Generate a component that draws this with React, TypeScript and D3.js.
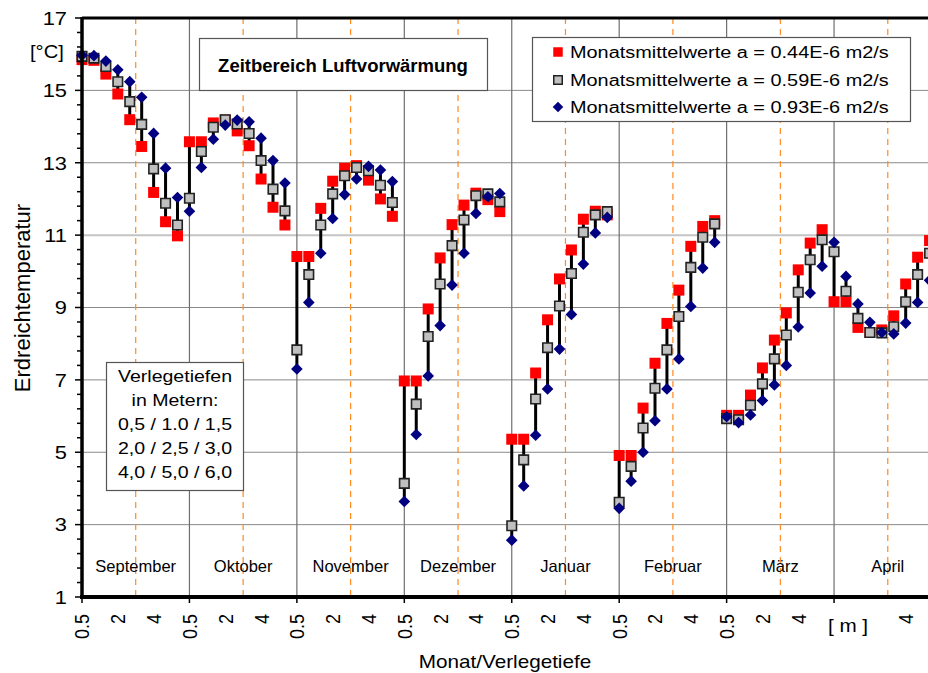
import React, { useEffect, useRef } from "react";
import * as d3 from "d3";

// months on the x axis, 9 laying depths each
const months = ["September", "Oktober", "November", "Dezember", "Januar", "Februar", "März", "April"];
const depths = ["0.5", "1.0", "1.5", "2.0", "2.5", "3.0", "4.0", "5.0", "6.0"];
const depthTicks = ["0.5", "", "", "2", "", "", "4", "", ""];
const yTickValues = [1, 3, 5, 7, 9, 11, 13, 15, 17];
const legendLabels = [
    "Monatsmittelwerte a = 0.44E-6 m2/s",
    "Monatsmittelwerte a = 0.59E-6 m2/s",
    "Monatsmittelwerte a = 0.93E-6 m2/s",
];
const depthNote = ["Verlegetiefen", "in Metern:", "0,5 / 1.0 / 1,5", "2,0 / 2,5 / 3,0", "4,0 / 5,0 / 6,0"];

// a = 0.44E-6 m2/s
const series044 = [
    15.85, 15.83, 15.45, 14.9, 14.19, 13.45, 12.18, 11.37, 10.98,
    13.58, 13.58, 14.1, 14.18, 13.88, 13.47, 12.55, 11.77, 11.28,
    10.41, 10.41, 11.74, 12.49, 12.85, 12.92, 12.52, 12.0, 11.52,
    6.97, 6.97, 8.96, 10.37, 11.29, 11.83, 12.16, 11.98, 11.65,
    5.36, 5.36, 7.19, 8.66, 9.79, 10.59, 11.44, 11.66, 11.56,
    4.91, 4.91, 6.22, 7.46, 8.56, 9.48, 10.69, 11.24, 11.4,
    6.02, 6.02, 6.58, 7.33, 8.1, 8.85, 10.04, 10.78, 11.15,
    9.16, 9.16, 8.45, 8.31, 8.38, 8.77, 9.65, 10.39, 10.85,
];
// a = 0.59E-6 m2/s
const series059 = [
    15.94, 15.89, 15.66, 15.24, 14.69, 14.06, 12.83, 11.88, 11.28,
    12.02, 13.31, 13.98, 14.19, 14.07, 13.81, 13.06, 12.27, 11.67,
    7.83, 9.91, 11.28, 12.14, 12.64, 12.87, 12.78, 12.38, 11.9,
    4.14, 6.33, 8.2, 9.65, 10.71, 11.42, 12.09, 12.14, 11.92,
    2.97, 4.79, 6.47, 7.89, 9.04, 9.94, 11.08, 11.56, 11.65,
    3.62, 4.61, 5.67, 6.77, 7.83, 8.75, 10.11, 10.94, 11.31,
    5.93, 5.9, 6.3, 6.89, 7.58, 8.24, 9.42, 10.32, 10.87,
    10.54, 9.45, 8.7, 8.31, 8.3, 8.47, 9.16, 9.91, 10.5,
];
// a = 0.93E-6 m2/s
const series093 = [
    15.97, 15.96, 15.81, 15.57, 15.24, 14.81, 13.81, 12.85, 12.04,
    11.66, 12.87, 13.65, 14.04, 14.18, 14.13, 13.68, 13.06, 12.44,
    7.3, 9.14, 10.5, 11.46, 12.12, 12.55, 12.9, 12.8, 12.48,
    3.64, 5.49, 7.11, 8.5, 9.62, 10.5, 11.6, 12.06, 12.15,
    2.57, 4.07, 5.47, 6.75, 7.85, 8.81, 10.2, 11.06, 11.49,
    3.45, 4.2, 5.0, 5.87, 6.75, 7.58, 9.03, 10.09, 10.8,
    5.98, 5.82, 6.03, 6.43, 6.86, 7.4, 8.46, 9.4, 10.14,
    10.8, 9.86, 9.1, 8.59, 8.31, 8.27, 8.57, 9.14, 9.75,
];

const FONT = "'Liberation Sans', Arial, Helvetica, sans-serif";
const SX = 1.15; // the picture is a bit wider than tall, text too

const addText = (g, tx, ty, str, opt) => {
    const { size, anchor = "start", weight = "normal", rotate = 0, sx = SX, dy = "0" } = opt;
    const holder = g
        .append("g")
        .attr("transform", `translate(${tx},${ty}) scale(${sx},1)${rotate ? ` rotate(${rotate})` : ""}`);
    holder
        .append("text")
        .attr("text-anchor", anchor)
        .attr("dy", dy)
        .attr("font-family", FONT)
        .style("font-size", `${size}px`)
        .style("font-weight", weight)
        .attr("fill", "#000")
        .text(str);
    return holder;
};

const drawChart = (ref) => {
    const width = 928;
    const height = 673;
    const svg = d3.select(ref).attr("width", width).attr("height", height);
    svg.selectAll("*").remove();

    const left = 82, right = 941.5, top = 18, bottom = 597;
    const n = months.length * depths.length;
    const x = d3.scaleLinear().domain([0, n]).range([left, right]);
    const y = d3.scaleLinear().domain([1, 17]).range([bottom, top]);

    svg.append("rect").attr("width", width).attr("height", height).attr("fill", "#fff");
    const g = svg.append("g");

    // horizontal grid
    g.selectAll(".hgrid")
        .data(yTickValues.filter((v) => v > 1 && v < 17))
        .enter()
        .append("line")
        .attr("x1", left)
        .attr("x2", right)
        .attr("y1", (d) => y(d))
        .attr("y2", (d) => y(d))
        .attr("stroke", (d) => (d === 11 ? "#c4c4c4" : "#8a8a8a"))
        .attr("stroke-width", (d) => (d === 11 ? 2 : 1));

    // month separators + dashed mid month
    g.selectAll(".vgrid")
        .data(months.map((m, i) => i).filter((i) => i > 0))
        .enter()
        .append("line")
        .attr("x1", (i) => x(i * depths.length))
        .attr("x2", (i) => x(i * depths.length))
        .attr("y1", top)
        .attr("y2", bottom)
        .attr("stroke", "#6f6f6f")
        .attr("stroke-width", 1.2);
    g.selectAll(".mid")
        .data(months.map((m, i) => i))
        .enter()
        .append("line")
        .attr("x1", (i) => x(i * depths.length + 4.5))
        .attr("x2", (i) => x(i * depths.length + 4.5))
        .attr("y1", top)
        .attr("y2", bottom)
        .attr("stroke", "#ff8a1f")
        .attr("stroke-width", 1.2)
        .attr("stroke-dasharray", "6,5");

    // month names
    months.forEach((m, i) => {
        addText(g, x(i * depths.length + 4.5), 572, m, { size: 16.5, anchor: "middle", sx: 1 });
    });

    // high-low lines
    const idx = d3.range(n);
    g.selectAll(".hilo")
        .data(idx)
        .enter()
        .append("line")
        .attr("x1", (i) => x(i))
        .attr("x2", (i) => x(i))
        .attr("y1", (i) => y(Math.min(series044[i], series059[i], series093[i])))
        .attr("y2", (i) => y(Math.max(series044[i], series059[i], series093[i])))
        .attr("stroke", "#000")
        .attr("stroke-width", 3);

    const square = d3.symbol().type(d3.symbolSquare);
    g.selectAll(".red")
        .data(idx)
        .enter()
        .append("path")
        .attr("d", square.size(121)())
        .attr("transform", (i) => `translate(${x(i)},${y(series044[i])})`)
        .attr("fill", "#ff0000");
    g.selectAll(".gray")
        .data(idx)
        .enter()
        .append("path")
        .attr("d", square.size(90)())
        .attr("transform", (i) => `translate(${x(i)},${y(series059[i])})`)
        .attr("fill", "#c0c0c0")
        .attr("stroke", "#222")
        .attr("stroke-width", 1.6);
    g.selectAll(".blue")
        .data(idx)
        .enter()
        .append("path")
        .attr("d", square.size(68)())
        .attr("transform", (i) => `translate(${x(i)},${y(series093[i])}) rotate(45)`)
        .attr("fill", "#000080");

    // axes frame
    g.append("line").attr("x1", left).attr("x2", width).attr("y1", top).attr("y2", top).attr("stroke", "#000").attr("stroke-width", 3);
    g.append("line").attr("x1", left).attr("x2", left).attr("y1", top - 1).attr("y2", bottom + 2).attr("stroke", "#000").attr("stroke-width", 3.5);
    g.append("line").attr("x1", left - 2).attr("x2", width).attr("y1", bottom).attr("y2", bottom).attr("stroke", "#000").attr("stroke-width", 4);

    // y ticks every 0.4, labels every 2
    d3.range(0, 41).forEach((k) => {
        const v = 1 + k * 0.4;
        const major = k % 5 === 0;
        g.append("line")
            .attr("x1", left - (major ? 7 : 5))
            .attr("x2", left)
            .attr("y1", y(v))
            .attr("y2", y(v))
            .attr("stroke", "#000")
            .attr("stroke-width", 1.5);
    });
    yTickValues.forEach((v) => {
        addText(g, 67, y(v), String(v), { size: 19, anchor: "end", dy: "0.36em" });
    });

    // x ticks and depth labels
    months.forEach((m, mi) => {
        const x0 = x(mi * depths.length);
        g.append("line").attr("x1", x0).attr("x2", x0).attr("y1", bottom).attr("y2", bottom + 6).attr("stroke", "#000").attr("stroke-width", 1.5);
        depthTicks.forEach((lab, di) => {
            if (!lab) return;
            if (mi === months.length - 1 && di < 6) return;
            addText(g, x(mi * depths.length + di), 614, lab, { size: 18, anchor: "end", rotate: -90, dy: "0.36em" });
        });
    });
    addText(g, 848, 632, "[ m ]", { size: 18, anchor: "middle" });

    // axis titles
    addText(g, 30, 58, "[°C]", { size: 17.5 });
    addText(g, 22, 298, "Erdreichtemperatur", { size: 22, anchor: "middle", rotate: -90, dy: "0.36em", sx: 1 });
    addText(g, 505, 668, "Monat/Verlegetiefe", { size: 18, anchor: "middle" });

    // title box
    g.append("rect").attr("x", 199.5).attr("y", 38.5).attr("width", 288).attr("height", 52).attr("fill", "#fff").attr("stroke", "#555").attr("stroke-width", 1.2);
    addText(g, 343, 72, "Zeitbereich Luftvorwärmung", { size: 18.5, anchor: "middle", weight: "bold", sx: 1 });

    // legend
    g.append("rect").attr("x", 532.5).attr("y", 37.5).attr("width", 378).attr("height", 84).attr("fill", "#fff").attr("stroke", "#555").attr("stroke-width", 1.2);
    const legY = [52, 80, 107];
    g.append("path").attr("d", square.size(90)()).attr("transform", `translate(558,${legY[0]})`).attr("fill", "#ff0000");
    g.append("path").attr("d", square.size(72)()).attr("transform", `translate(558,${legY[1]})`).attr("fill", "#c0c0c0").attr("stroke", "#222").attr("stroke-width", 1.5);
    g.append("path").attr("d", square.size(56)()).attr("transform", `translate(558,${legY[2]}) rotate(45)`).attr("fill", "#000080");
    legendLabels.forEach((lab, i) => {
        addText(g, 570, legY[i], lab, { size: 17.3, dy: "0.36em" });
    });

    // depth note box
    g.append("rect").attr("x", 106.5).attr("y", 362.5).attr("width", 137).attr("height", 128).attr("fill", "#fff").attr("stroke", "#555").attr("stroke-width", 1.2);
    depthNote.forEach((line, i) => {
        addText(g, 175, 382 + i * 24, line, { size: 17, anchor: "middle" });
    });
};

export default function App() {
    const svgRef = useRef(null);
    useEffect(() => {
        drawChart(svgRef.current);
    }, []);
    return <svg ref={svgRef} style={{ position: "absolute", left: 0, top: 0, display: "block" }} />;
}
